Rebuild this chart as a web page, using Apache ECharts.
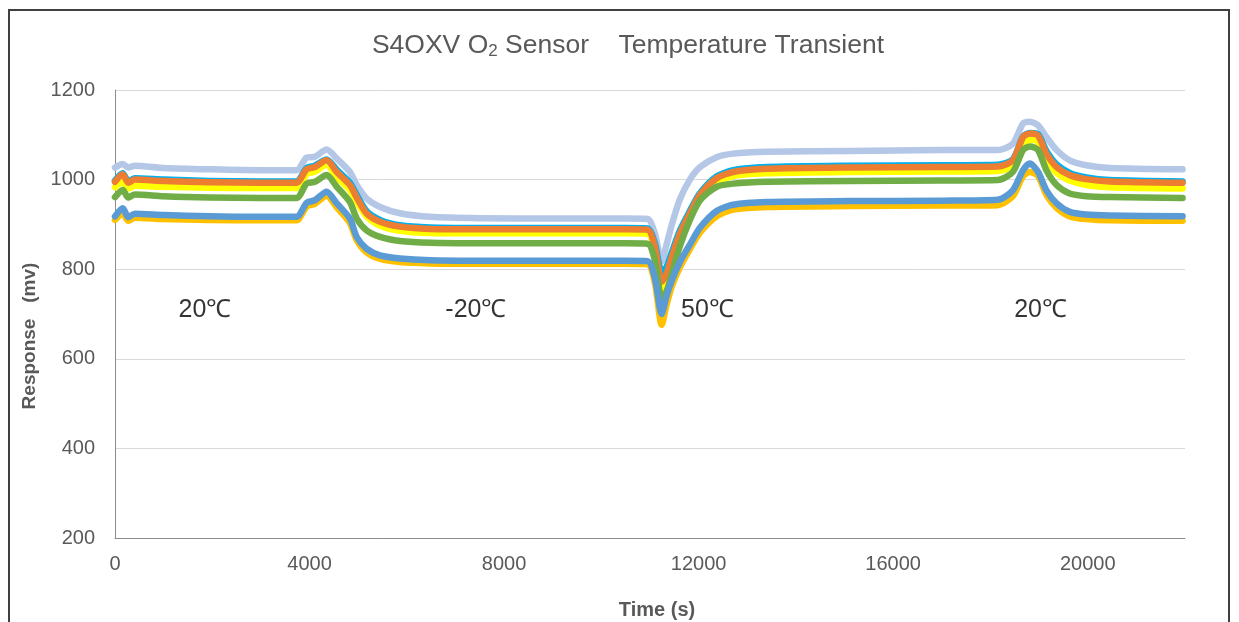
<!DOCTYPE html>
<html>
<head>
<meta charset="utf-8">
<script src="https://cdn.jsdelivr.net/npm/echarts@6/dist/echarts.min.js"></script>
<style>html,body{margin:0;padding:0;background:#fff;}#c{width:1239px;height:622px;}</style>
</head>
<body>
<div id="c"></div>
<script>
// Time (s)
const times = [0,160,270,410,1000,1950,3000,3730,3940,4110,4350,4560,4830,4970,5170,5450,5860,6480,7500,9000,10500,10950,11100,11240,11340,11450,11610,11820,12030,12370,12710,13400,15100,17000,18150,18460,18670,18810,18980,19150,19360,19630,19970,20450,21950];
// Response (mv) per sensor
const lavender = [1027,1035,1027,1031,1026,1023,1021,1021,1049,1051,1067,1047,1017,988,958,939,925,917,914,913,913,912,880,817,855,900,955,1000,1028,1050,1058,1062,1064,1066,1066,1080,1125,1129,1121,1095,1066,1043,1032,1026,1023];
const cyan = [998,1014,996,1003,1000,997,996,996,1026,1031,1045,1022,993,966,930,910,898,893,892,892,892,891,858,794,805,838,885,930,970,1007,1021,1028,1031,1032,1033,1045,1096,1104,1101,1064,1034,1015,1005,999,996];
const orange = [995,1012,993,1000,997,994,993,993,1023,1028,1043,1017,988,960,925,906,895,890,889,889,889,888,850,772,790,828,878,925,966,1003,1017,1024,1027,1028,1029,1043,1095,1103,1098,1058,1028,1010,1001,996,993];
const yellow = [983,995,980,986,984,982,981,981,1012,1018,1033,1005,977,950,918,897,886,881,880,880,880,879,840,754,770,810,860,915,955,993,1008,1014,1017,1018,1019,1032,1080,1089,1084,1045,1015,998,988,983,980];
const green = [961,977,960,967,963,960,959,959,991,995,1010,984,950,913,887,872,863,859,858,858,858,857,820,735,750,790,850,910,954,984,991,995,997,998,999,1017,1066,1074,1066,1021,988,969,963,961,959];
const blue = [918,936,916,924,921,918,917,917,948,954,973,947,913,872,846,831,824,820,819,819,819,818,780,700,740,775,815,855,893,930,944,950,952,953,955,976,1021,1036,1017,976,947,928,922,920,918];
const gold = [910,925,908,915,912,910,909,909,940,946,964,938,903,865,838,823,816,813,812,812,812,811,770,676,720,762,803,845,882,918,933,939,941,942,943,963,1008,1017,1008,966,937,918,912,909,908];

const xTicks = [0,4000,8000,12000,16000,20000];
const yTicks = [200,400,600,800,1000,1200];
const annotations = [
  {t: 1850, v: 709, text: '20℃'},
  {t: 7420, v: 709, text: '-20℃'},
  {t: 12180, v: 709, text: '50℃'},
  {t: 19030, v: 709, text: '20℃'}
];

const seriesDefs = [
  {name:'S7', data: lavender, color:'#B4C7E7'},
  {name:'S6', data: gold, color:'#FFC000'},
  {name:'S4', data: yellow, color:'#FFFF00'},
  {name:'S3', data: cyan, color:'#00B0F0'},
  {name:'S2', data: orange, color:'#ED7D31'},
  {name:'S5', data: green, color:'#70AD47'},
  {name:'S1', data: blue, color:'#5B9BD5'}
];

const FONT = '"Liberation Sans", Arial, sans-serif';
const chart = echarts.init(document.getElementById('c'));
const series = seriesDefs.map(s => ({
  name: s.name,
  type: 'line',
  data: times.map((t, i) => [t, s.data[i]]),
  showSymbol: false,
  smooth: 0.25,
  lineStyle: {color: s.color, width: 6.5, cap: 'round', join: 'round'},
  itemStyle: {color: s.color},
  animation: false,
  z: 2
}));
series.push({
  type: 'scatter',
  data: annotations.map(a => [a.t, a.v, a.text]),
  symbolSize: 0,
  label: {show: true, position: 'inside', formatter: p => p.data[2], color: '#000', fontSize: 25, fontFamily: FONT},
  silent: true,
  animation: false,
  z: 5
});

chart.setOption({
  backgroundColor: '#fff',
  animation: false,
  grid: {left: 115, right: 54, top: 90, bottom: 84, containLabel: false},
  xAxis: {
    type: 'value', min: 0, max: 22000, interval: 4000,
    axisLine: {show: true, lineStyle: {color: '#8c8c8c', width: 1}},
    axisTick: {show: false},
    splitLine: {show: false},
    axisLabel: {color: '#595959', fontSize: 20, fontFamily: FONT, margin: 16,
      formatter: v => xTicks.includes(v) ? String(v) : ''}
  },
  yAxis: {
    type: 'value', min: 200, max: 1200, interval: 200,
    axisLine: {show: true, lineStyle: {color: '#8c8c8c', width: 1}},
    axisTick: {show: false},
    splitLine: {show: true, lineStyle: {color: '#d9d9d9', width: 1}},
    axisLabel: {color: '#595959', fontSize: 20, fontFamily: FONT, margin: 20, padding: [5, 0, 0, 0],
      formatter: v => yTicks.includes(v) ? String(v) : ''}
  },
  graphic: [
    {type: 'rect', shape: {x: 9, y: 10, width: 1220, height: 700}, style: {fill: 'none', stroke: '#404040', lineWidth: 2}, silent: true, z: 0},
    {type: 'text', x: 628, y: 46, style: {text: 'S4OXV O{sub|2} Sensor    Temperature Transient', fill: '#595959', font: '26.5px ' + FONT, textAlign: 'center', textVerticalAlign: 'middle',
      rich: {sub: {fontSize: 17, fill: '#595959', fontFamily: FONT, padding: [10, 0, 0, 0]}}}},
    {type: 'text', x: 657, y: 610, style: {text: 'Time (s)', fill: '#595959', font: 'bold 20px ' + FONT, textAlign: 'center', textVerticalAlign: 'middle'}},
    {type: 'text', x: 30, y: 336, rotation: Math.PI / 2, style: {text: 'Response   (mv)', fill: '#595959', font: 'bold 19px ' + FONT, textAlign: 'center', textVerticalAlign: 'middle'}}
  ],
  series: series
});
</script>
</body>
</html>
